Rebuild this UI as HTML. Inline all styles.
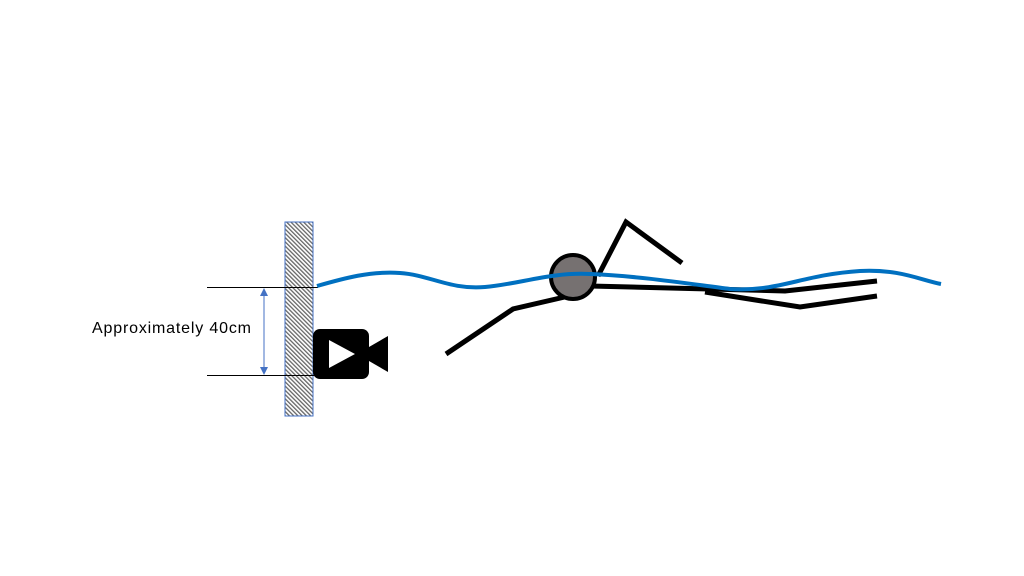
<!DOCTYPE html>
<html><head><style>html,body{margin:0;padding:0;background:#fff;}svg{display:block}</style></head>
<body>
<svg width="1024" height="576" viewBox="0 0 1024 576" xmlns="http://www.w3.org/2000/svg">
<defs>
<pattern id="h" width="3" height="3" patternUnits="userSpaceOnUse" patternTransform="rotate(-45)">
<rect width="3" height="3" fill="#fff"/><rect width="1.3" height="3" fill="#666"/>
</pattern>
<marker id="a" markerWidth="8" markerHeight="8" refX="4" refY="4" orient="auto-start-reverse" markerUnits="userSpaceOnUse">
<path d="M0,0 L8,4 L0,8 z" fill="#4472C4"/></marker>
</defs>
<rect x="285" y="222" width="28" height="194" fill="url(#h)" stroke="#4472C4" stroke-width="1"/>
<line x1="207" y1="287.5" x2="318" y2="287.5" stroke="#000" stroke-width="1"/>
<line x1="207" y1="375.5" x2="318" y2="375.5" stroke="#000" stroke-width="1"/>
<line x1="264" y1="292" x2="264" y2="371" stroke="#4472C4" stroke-width="1" marker-start="url(#a)" marker-end="url(#a)"/>
<text x="92" y="333" font-family="Liberation Sans, sans-serif" font-size="16" fill="#000" textLength="159" lengthAdjust="spacing">Approximately 40cm</text>
<rect x="313" y="329" width="56" height="50" rx="7" fill="#000"/>
<path d="M369,347 L388,336 L388,372 L369,361 z" fill="#000"/>
<path d="M329,340 L355,354 L329,368 z" fill="#fff"/>
<g stroke="#000" stroke-width="5" fill="none" stroke-linejoin="miter">
<polyline points="446,354 513,309 582,293"/>
<polyline points="598,276 626,222 682,263"/>
<polyline points="590,286 785,291 877,281"/>
<polyline points="705,292 800,307 877,296"/>
</g>
<circle cx="573" cy="277" r="22" fill="#767171" stroke="#000" stroke-width="4"/>
<path d="M317,286 C345,278 370,271 400,273 C430,275 450,290 485,287 C520,284 550,272 590,274 C640,276 690,284 730,289 C780,292 800,275 860,271 C900,269 920,280 941,284" stroke="#0070C0" stroke-width="4" fill="none"/>
</svg>
</body></html>
